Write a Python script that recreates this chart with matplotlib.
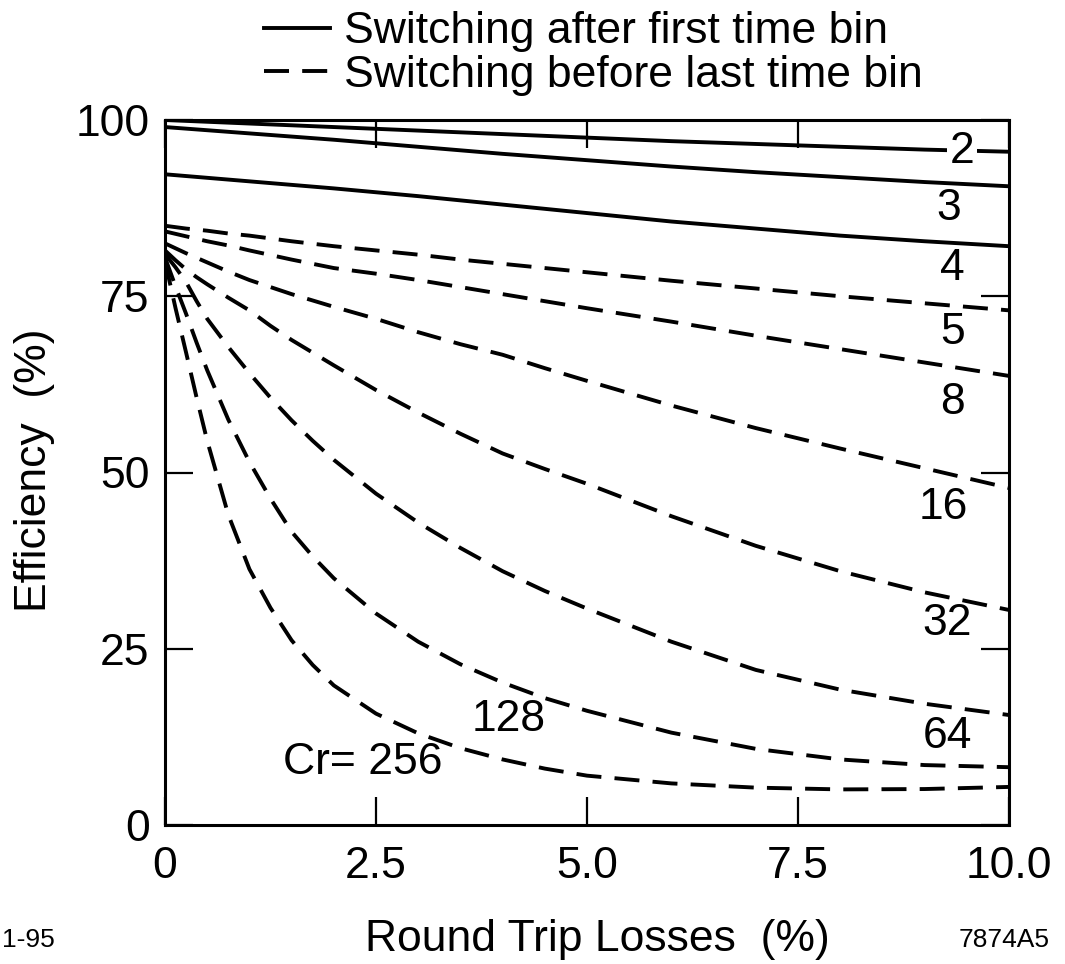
import matplotlib
matplotlib.use("Agg")
import matplotlib.pyplot as plt
from matplotlib.lines import Line2D

plt.rcParams['font.family'] = ['Liberation Sans', 'DejaVu Sans']
plt.rcParams['lines.scale_dashes'] = False

# ---- data ----
x_solid = [0, 1, 2, 3, 4, 5, 6, 7, 8, 9, 10]
cr2 = [100, 99.5, 99.0, 98.5, 98.0, 97.5, 97.0, 96.6, 96.2, 95.8, 95.5]
cr3 = [99.0, 98.1, 97.2, 96.2, 95.2, 94.3, 93.4, 92.6, 91.9, 91.2, 90.6]
cr4 = [92.3, 91.3, 90.3, 89.2, 88.0, 86.8, 85.6, 84.6, 83.6, 82.8, 82.1]

x_dash = [0, 0.125, 0.25, 0.375, 0.5, 0.75, 1, 1.25, 1.5, 1.75, 2, 2.5, 3, 3.5, 4, 4.5, 5, 6, 7, 8, 9, 10]
cr5 = [85.0, 84.8, 84.6, 84.45, 84.3, 83.9, 83.6, 83.2, 82.8, 82.45, 82.1, 81.5, 80.9, 80.2, 79.6, 79.0, 78.4, 77.2, 76.1, 75.0, 74.0, 73.0]
cr8 = [84.2, 83.85, 83.5, 83.15, 82.8, 82.2, 81.5, 80.85, 80.2, 79.6, 79.0, 78.2, 77.3, 76.3, 75.3, 74.3, 73.3, 71.4, 69.4, 67.5, 65.6, 63.7]
cr16 = [82.5, 81.8, 81.1, 80.45, 79.8, 78.5, 77.3, 76.3, 75.3, 74.4, 73.5, 71.8, 69.9, 68.2, 66.7, 64.8, 63.0, 59.5, 56.3, 53.4, 50.6, 47.8]
cr32 = [81.5, 80.1, 78.8, 77.7, 76.7, 74.8, 73.0, 70.8, 68.8, 67.0, 65.2, 61.7, 58.5, 55.5, 52.7, 50.5, 48.4, 43.8, 39.6, 36.0, 33.0, 30.5]
cr64 = [81.0, 79.1, 77.0, 74.3, 71.8, 67.8, 64.1, 60.6, 57.4, 54.5, 51.8, 47.0, 42.9, 39.3, 36.0, 33.2, 30.7, 26.0, 22.0, 19.2, 17.2, 15.6]
cr128 = [80.5, 76.4, 72.5, 68.4, 64.5, 57.5, 51.5, 46.3, 41.6, 38.1, 35.0, 30.0, 26.0, 22.8, 20.2, 18.0, 16.2, 13.1, 10.8, 9.3, 8.5, 8.2]
cr256 = [80.0, 73.3, 67.0, 60.6, 54.5, 44.0, 36.3, 30.8, 26.2, 22.7, 19.8, 15.8, 13.0, 10.9, 9.3, 8.0, 7.0, 5.9, 5.3, 5.05, 5.1, 5.4]

solid_series = [cr2, cr3, cr4]
dash_series = [cr5, cr8, cr16, cr32, cr64, cr128, cr256]

# curve labels: (text, x, y)
curve_labels = [("2", 9.44, 95.5), ("3", 9.28, 87.5), ("4", 9.33, 79.0),
                ("5", 9.33, 69.8), ("8", 9.33, 60.0), ("16", 9.22, 45.0),
                ("32", 9.27, 28.6), ("64", 9.27, 12.5), ("128", 4.07, 14.9),
                ("Cr= 256", 2.34, 8.8)]

xticks = [0, 2.5, 5, 7.5, 10]
xticklabels = ["0", "2.5", "5.0", "7.5", "10.0"]
yticks = [0, 25, 50, 75, 100]
yticklabels = ["0", "25", "50", "75", "100"]

legend_labels = ["Switching after first time bin", "Switching before last time bin"]

# ---- figure ----
fig = plt.figure(figsize=(10.65, 9.64), dpi=100)
ax = fig.add_axes([165/1065, 1-825/964, (1009-165)/1065, (825-120)/964])

lw = 2.8
dash = (18, 9.5)
for s in solid_series:
    ax.plot(x_solid, s, color='black', lw=lw, solid_capstyle='butt', zorder=2)
for s in dash_series:
    ax.plot(x_dash, s, color='black', lw=lw, dashes=dash, dash_capstyle='butt', zorder=2)

fs = 32
for txt, tx, ty in curve_labels:
    bbox = None
    if txt == "2":
        bbox = dict(facecolor='white', edgecolor='none', pad=2)
    ax.text(tx, ty, txt, fontsize=fs, ha='center', va='center', zorder=3, bbox=bbox)

ax.set_xlim(0, 10)
ax.set_ylim(0, 100)
ax.set_xticks(xticks)
ax.set_xticklabels(xticklabels)
ax.set_yticks(yticks)
ax.set_yticklabels(yticklabels)
ax.tick_params(direction='in', length=20, width=1.6, top=True, right=True,
               labelsize=fs, color='black')
ax.tick_params(axis='x', pad=15)
ax.tick_params(axis='y', pad=11)
for sp in ax.spines.values():
    sp.set_linewidth(2.2)

ax.set_xlabel("Round Trip Losses  (%)", fontsize=fs, va='center')
ax.xaxis.set_label_coords((597-165)/844, (825-940)/705)
ax.set_ylabel("Efficiency  (%)", fontsize=fs, va='center')
ax.yaxis.set_label_coords((35-165)/844, (825-470)/705)

handles = [Line2D([], [], color='black', lw=lw),
           Line2D([], [], color='black', lw=lw, dashes=dash)]
fig.legend(handles, legend_labels, loc='upper left', bbox_to_anchor=(260/1065, 1-7/964),
           frameon=False, fontsize=fs, handlelength=1.48, handletextpad=0.3,
           labelspacing=0.05, borderaxespad=0.0, borderpad=0.1)

fig.text(2/1065, 1-940/964, "1-95", fontsize=19, ha='left', va='center')
fig.text(1050/1065, 1-940/964, "7874A5", fontsize=19, ha='right', va='center')

fig.savefig("out.png", dpi=100)
